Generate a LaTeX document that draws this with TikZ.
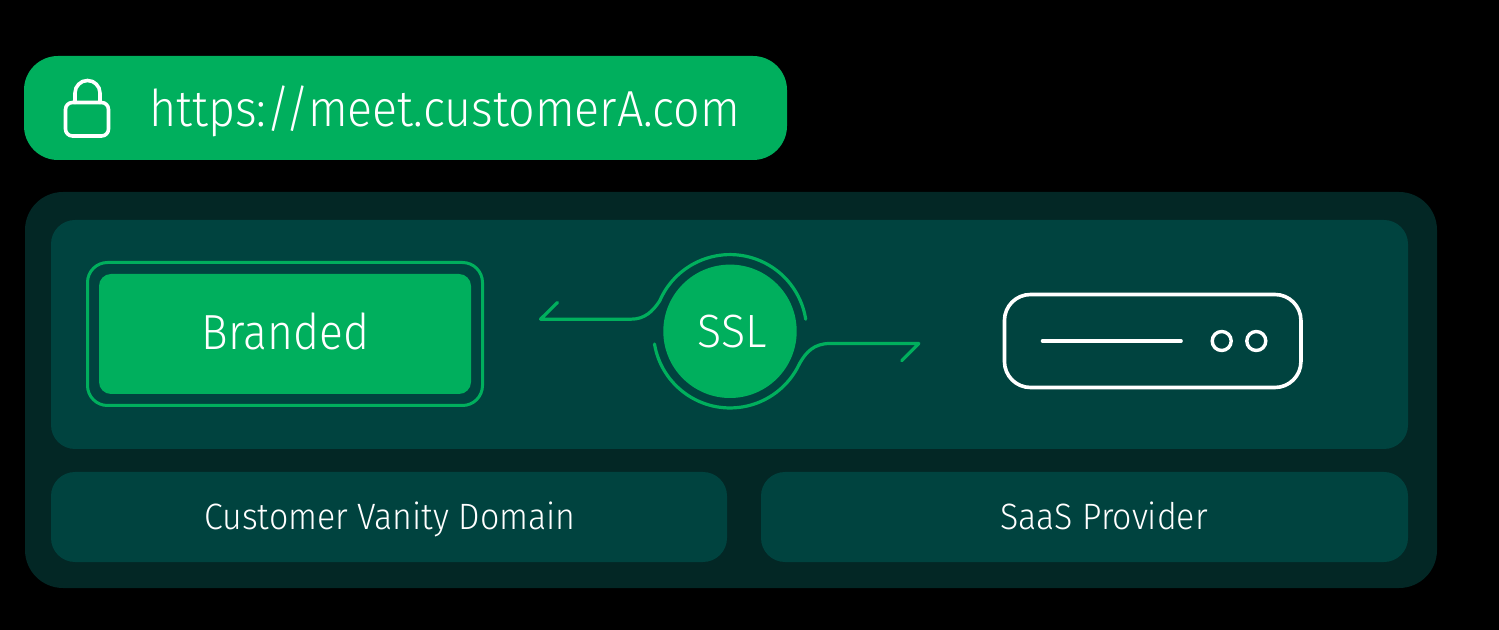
\documentclass[tikz,border=0pt]{standalone}
\usepackage{fontspec}
\setmainfont{Fira Sans Light}
\newfontfamily\urlfont[FakeStretch=0.92]{Fira Sans Light}
\newfontfamily\brandfont[FakeStretch=0.90]{Fira Sans Light}
\newfontfamily\labelfont[FakeStretch=0.925]{Fira Sans Light}
\newfontfamily\sslfont[FakeStretch=0.96]{Fira Sans Light}
\definecolor{brandgreen}{HTML}{00AF5D}
\definecolor{panel}{HTML}{00433F}
\definecolor{outerpanel}{HTML}{032725}
\tikzset{
  pxbox/.style={rectangle,inner sep=0pt,outer sep=0pt},
  whitetext/.style={text=white},
  link/.style={draw=brandgreen,line width=3.2*.75pt,line cap=round,line join=round},
  wline/.style={draw=white,line width=3.6*.75pt,line cap=round,line join=round},
}
\newcommand{\px}[1]{#1*0.75pt}
\begin{document}
\begin{tikzpicture}[x=0.75pt,y=-0.75pt]
\useasboundingbox[fill=black] (0,0) rectangle (1499,630);
% URL pill
\node[pxbox,fill=brandgreen,rounded corners=\px{34},minimum width=\px{763},minimum height=\px{104}] (pill) at (405.5,108) {};
\node[whitetext,font=\urlfont\fontsize{38}{38}\selectfont,anchor=base west,inner sep=0pt] (url) at (149,126.5) {https://meet.customerA.com};
% lock
\draw[wline,rounded corners=\px{7}] (65.5,102.5) rectangle (108.5,136);
\draw[wline] (75,102.5) -- (75,93) arc[start angle=180,end angle=360,radius=12.5] -- (100,102.5);
% panels
\node[pxbox,fill=outerpanel,rounded corners=\px{38},minimum width=\px{1412},minimum height=\px{396}] (outer) at (731,390) {};
\node[pxbox,fill=panel,rounded corners=\px{24},minimum width=\px{1357},minimum height=\px{229}] (main) at (729.5,334.5) {};
\node[pxbox,fill=panel,rounded corners=\px{24},minimum width=\px{676},minimum height=\px{90}] (custbox) at (389,517) {};
\node[pxbox,fill=panel,rounded corners=\px{24},minimum width=\px{647},minimum height=\px{90}] (saasbox) at (1084.5,517) {};
\node[whitetext,font=\labelfont\fontsize{27.5}{27.5}\selectfont,anchor=base,inner sep=0pt] (cust) at (390,529) {Customer Vanity Domain};
\node[whitetext,font=\labelfont\fontsize{27.5}{27.5}\selectfont,anchor=base,inner sep=0pt] (saas) at (1104,529) {SaaS Provider};
% Branded
\node[pxbox,draw=brandgreen,line width=3*.75pt,rounded corners=\px{20},minimum width=\px{395},minimum height=\px{143}] (brandframe) at (285,334) {};
\node[pxbox,fill=brandgreen,rounded corners=\px{12},minimum width=\px{372},minimum height=\px{120}] (brandbox) at (285,334) {};
\node[whitetext,font=\brandfont\fontsize{37}{37}\selectfont,anchor=base,inner sep=0pt] (brandtext) at (285.5,350) {Branded};
% SSL
\node[circle,fill=brandgreen,minimum size=\px{133.4},inner sep=0pt] (ssl) at (730,331.3) {};
\node[whitetext,font=\sslfont\fontsize{35}{35}\selectfont,anchor=base,inner sep=0pt] (ssltext) at (732,347.5) {SSL};
\coordinate (tipL) at (540.5,319.2);
\coordinate (barbL) at (557.5,302.5);
\coordinate (tipR) at (918.8,343.5);
\coordinate (barbR) at (901.7,360.7);
\coordinate (arcTop) at (659.7,300.9);
\coordinate (arcBot) at (654.5,344);
\draw[link] (barbL) -- (tipL) -- (631,319.2) .. controls (645,319.2) and (653,311) .. (arcTop) arc[start angle=203.3,end angle=351,radius=76.6];
\draw[link] (arcBot) arc[start angle=170.5,end angle=25,radius=76.6] coordinate (arcEnd) .. controls (806,352) and (814,343.5) .. (830,343.5) -- (tipR) -- (barbR);
% server
\node[pxbox,draw=white,line width=3.6*.75pt,rounded corners=\px{26},minimum width=\px{296.5},minimum height=\px{93}] (server) at (1152.7,341) {};
\coordinate (slotA) at (1042.5,341);
\coordinate (slotB) at (1181,341);
\draw[wline] (slotA) -- (slotB);
\node[circle,draw=white,line width=3.4*.75pt,minimum size=\px{19},inner sep=0pt] (ledA) at (1221.7,341) {};
\node[circle,draw=white,line width=3.4*.75pt,minimum size=\px{19},inner sep=0pt] (ledB) at (1256.3,341) {};
\end{tikzpicture}
\end{document}
